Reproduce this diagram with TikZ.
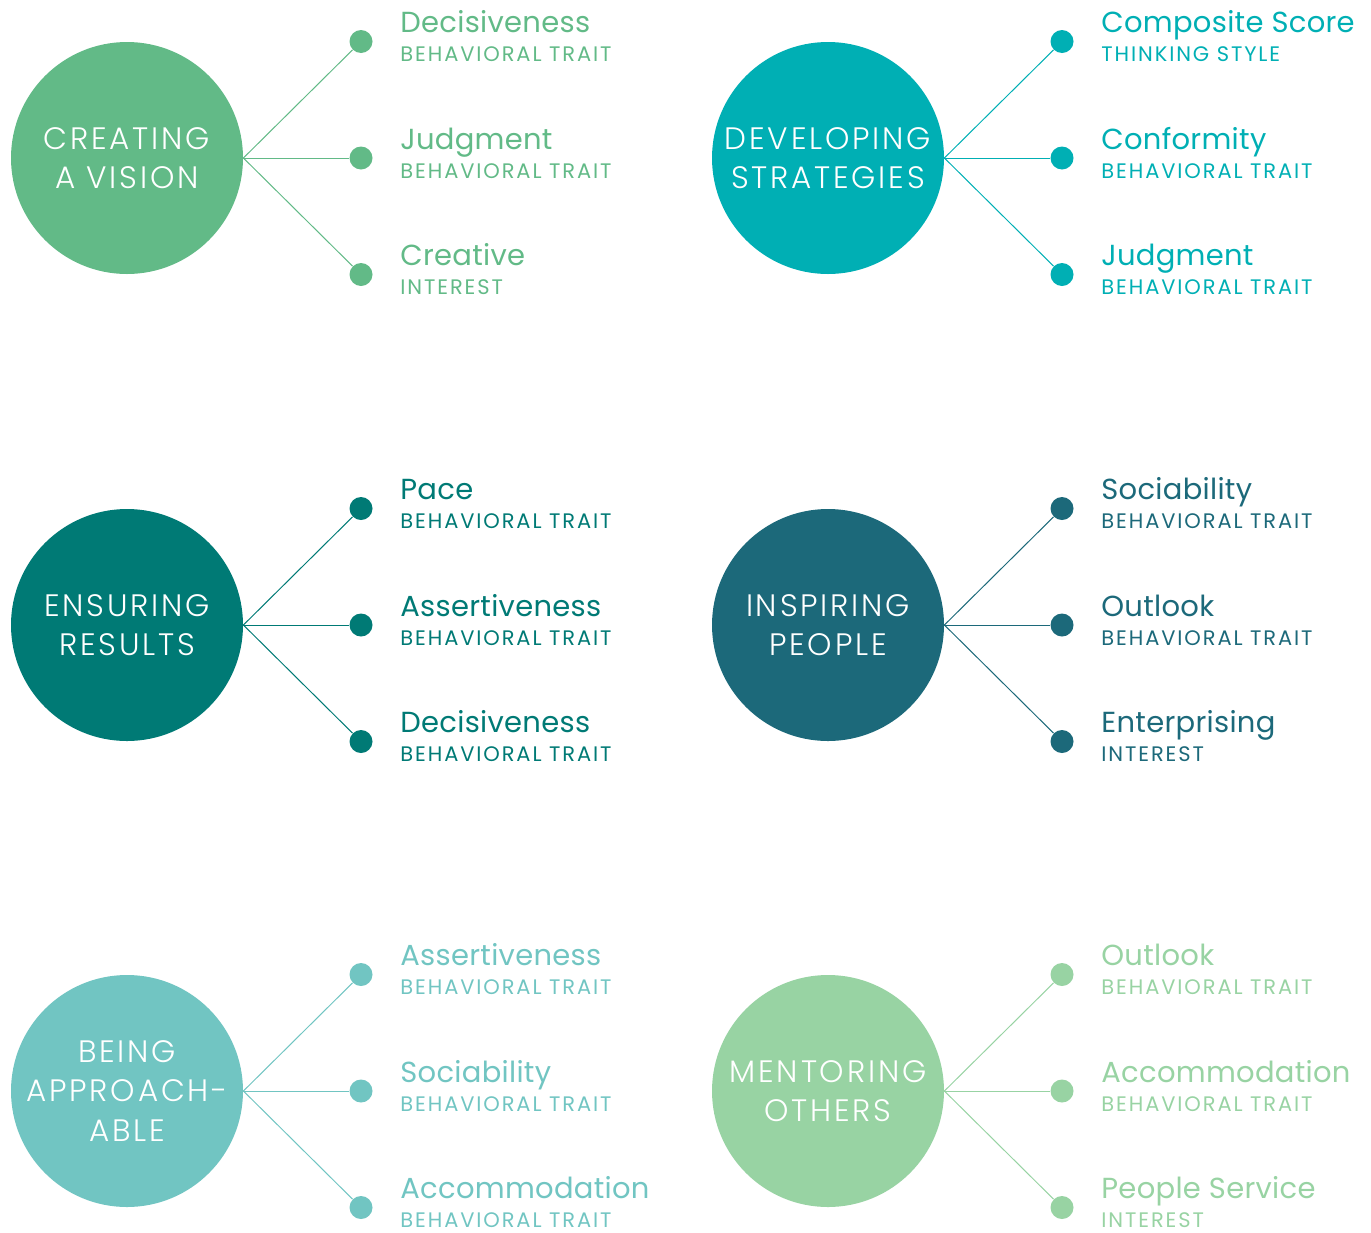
\documentclass[tikz,border=0pt]{standalone}
\usepackage{fontspec}
\setmainfont{Poppins}[LetterSpace=1]
\newfontfamily\hubfont{Poppins Light}[LetterSpace=9]
\newfontfamily\kindfont{Poppins}[LetterSpace=9]
\definecolor{visgreen}{HTML}{62BA87}
\definecolor{strteal}{HTML}{00AFB4}
\definecolor{resteal}{HTML}{007A75}
\definecolor{inspetrol}{HTML}{1C697A}
\definecolor{appteal}{HTML}{71C5C2}
\definecolor{menmint}{HTML}{98D3A3}
\begin{document}
\begin{tikzpicture}[x=0.5pt,y=-0.5pt,
 hub/.style={circle,minimum size=116pt,inner sep=0pt,text=white,align=center,font=\hubfont\fontsize{15.5}{19.75}\selectfont},
 dot/.style={circle,minimum size=11.5pt,inner sep=0pt},
 spoke/.style={line width=0.5pt},
 trait/.style={anchor=base west,inner sep=0pt,font=\fontsize{14.5}{16}\selectfont},
 kind/.style={anchor=base west,inner sep=0pt,font=\kindfont\fontsize{10.5}{12}\selectfont}]
\useasboundingbox (0,0) rectangle (1371,1232);
\pgfmathsetmacro{\xa}{127}   %left column, hub centre
 \pgfmathsetmacro{\xb}{828}  %right column
\pgfmathsetmacro{\ya}{158}   %rows
 \pgfmathsetmacro{\yb}{625}
 \pgfmathsetmacro{\yc}{1091}
\pgfmathsetmacro{\dx}{234}   %hub centre to dots
 \pgfmathsetmacro{\tx}{273}  %hub centre to texts
 \pgfmathsetmacro{\dy}{116.5}
%creating a vision
\node[hub,fill=visgreen] (vis) at (\xa,\ya) {CREATING\\A VISION};
\node[dot,fill=visgreen] (vis1) at (\xa+\dx,\ya-\dy) {};
\node[dot,fill=visgreen] (vis2) at (\xa+\dx,\ya) {};
\node[dot,fill=visgreen] (vis3) at (\xa+\dx,\ya+\dy) {};
\draw[spoke,visgreen] (vis.east)--(vis1);
\draw[spoke,visgreen] (vis.east)--(vis2);
\draw[spoke,visgreen] (vis.east)--(vis3);
\node[trait,text=visgreen] (vis1t) at (\xa+\tx,\ya-\dy-9) {Decisiveness};
\node[kind,text=visgreen] (vis1s) at (\xa+\tx,\ya-\dy+20) {BEHAVIORAL TRAIT};
\node[trait,text=visgreen] (vis2t) at (\xa+\tx,\ya-9) {Judgment};
\node[kind,text=visgreen] (vis2s) at (\xa+\tx,\ya+20) {BEHAVIORAL TRAIT};
\node[trait,text=visgreen] (vis3t) at (\xa+\tx,\ya+\dy-9) {Creative};
\node[kind,text=visgreen] (vis3s) at (\xa+\tx,\ya+\dy+20) {INTEREST};
%developing strategies
\node[hub,fill=strteal] (str) at (\xb,\ya) {DEVELOPING\\STRATEGIES};
\node[dot,fill=strteal] (str1) at (\xb+\dx,\ya-\dy) {};
\node[dot,fill=strteal] (str2) at (\xb+\dx,\ya) {};
\node[dot,fill=strteal] (str3) at (\xb+\dx,\ya+\dy) {};
\draw[spoke,strteal] (str.east)--(str1);
\draw[spoke,strteal] (str.east)--(str2);
\draw[spoke,strteal] (str.east)--(str3);
\node[trait,text=strteal] (str1t) at (\xb+\tx,\ya-\dy-9) {Composite Score};
\node[kind,text=strteal] (str1s) at (\xb+\tx,\ya-\dy+20) {THINKING STYLE};
\node[trait,text=strteal] (str2t) at (\xb+\tx,\ya-9) {Conformity};
\node[kind,text=strteal] (str2s) at (\xb+\tx,\ya+20) {BEHAVIORAL TRAIT};
\node[trait,text=strteal] (str3t) at (\xb+\tx,\ya+\dy-9) {Judgment};
\node[kind,text=strteal] (str3s) at (\xb+\tx,\ya+\dy+20) {BEHAVIORAL TRAIT};
%ensuring results
\node[hub,fill=resteal] (res) at (\xa,\yb) {ENSURING\\RESULTS};
\node[dot,fill=resteal] (res1) at (\xa+\dx,\yb-\dy) {};
\node[dot,fill=resteal] (res2) at (\xa+\dx,\yb) {};
\node[dot,fill=resteal] (res3) at (\xa+\dx,\yb+\dy) {};
\draw[spoke,resteal] (res.east)--(res1);
\draw[spoke,resteal] (res.east)--(res2);
\draw[spoke,resteal] (res.east)--(res3);
\node[trait,text=resteal] (res1t) at (\xa+\tx,\yb-\dy-9) {Pace};
\node[kind,text=resteal] (res1s) at (\xa+\tx,\yb-\dy+20) {BEHAVIORAL TRAIT};
\node[trait,text=resteal] (res2t) at (\xa+\tx,\yb-9) {Assertiveness};
\node[kind,text=resteal] (res2s) at (\xa+\tx,\yb+20) {BEHAVIORAL TRAIT};
\node[trait,text=resteal] (res3t) at (\xa+\tx,\yb+\dy-9) {Decisiveness};
\node[kind,text=resteal] (res3s) at (\xa+\tx,\yb+\dy+20) {BEHAVIORAL TRAIT};
%inspiring people
\node[hub,fill=inspetrol] (ins) at (\xb,\yb) {INSPIRING\\PEOPLE};
\node[dot,fill=inspetrol] (ins1) at (\xb+\dx,\yb-\dy) {};
\node[dot,fill=inspetrol] (ins2) at (\xb+\dx,\yb) {};
\node[dot,fill=inspetrol] (ins3) at (\xb+\dx,\yb+\dy) {};
\draw[spoke,inspetrol] (ins.east)--(ins1);
\draw[spoke,inspetrol] (ins.east)--(ins2);
\draw[spoke,inspetrol] (ins.east)--(ins3);
\node[trait,text=inspetrol] (ins1t) at (\xb+\tx,\yb-\dy-9) {Sociability};
\node[kind,text=inspetrol] (ins1s) at (\xb+\tx,\yb-\dy+20) {BEHAVIORAL TRAIT};
\node[trait,text=inspetrol] (ins2t) at (\xb+\tx,\yb-9) {Outlook};
\node[kind,text=inspetrol] (ins2s) at (\xb+\tx,\yb+20) {BEHAVIORAL TRAIT};
\node[trait,text=inspetrol] (ins3t) at (\xb+\tx,\yb+\dy-9) {Enterprising};
\node[kind,text=inspetrol] (ins3s) at (\xb+\tx,\yb+\dy+20) {INTEREST};
%being approachable
\node[hub,fill=appteal] (app) at (\xa,\yc) {BEING\\APPROACH-\\ABLE};
\node[dot,fill=appteal] (app1) at (\xa+\dx,\yc-\dy) {};
\node[dot,fill=appteal] (app2) at (\xa+\dx,\yc) {};
\node[dot,fill=appteal] (app3) at (\xa+\dx,\yc+\dy) {};
\draw[spoke,appteal] (app.east)--(app1);
\draw[spoke,appteal] (app.east)--(app2);
\draw[spoke,appteal] (app.east)--(app3);
\node[trait,text=appteal] (app1t) at (\xa+\tx,\yc-\dy-9) {Assertiveness};
\node[kind,text=appteal] (app1s) at (\xa+\tx,\yc-\dy+20) {BEHAVIORAL TRAIT};
\node[trait,text=appteal] (app2t) at (\xa+\tx,\yc-9) {Sociability};
\node[kind,text=appteal] (app2s) at (\xa+\tx,\yc+20) {BEHAVIORAL TRAIT};
\node[trait,text=appteal] (app3t) at (\xa+\tx,\yc+\dy-9) {Accommodation};
\node[kind,text=appteal] (app3s) at (\xa+\tx,\yc+\dy+20) {BEHAVIORAL TRAIT};
%mentoring others
\node[hub,fill=menmint] (men) at (\xb,\yc) {MENTORING\\OTHERS};
\node[dot,fill=menmint] (men1) at (\xb+\dx,\yc-\dy) {};
\node[dot,fill=menmint] (men2) at (\xb+\dx,\yc) {};
\node[dot,fill=menmint] (men3) at (\xb+\dx,\yc+\dy) {};
\draw[spoke,menmint] (men.east)--(men1);
\draw[spoke,menmint] (men.east)--(men2);
\draw[spoke,menmint] (men.east)--(men3);
\node[trait,text=menmint] (men1t) at (\xb+\tx,\yc-\dy-9) {Outlook};
\node[kind,text=menmint] (men1s) at (\xb+\tx,\yc-\dy+20) {BEHAVIORAL TRAIT};
\node[trait,text=menmint] (men2t) at (\xb+\tx,\yc-9) {Accommodation};
\node[kind,text=menmint] (men2s) at (\xb+\tx,\yc+20) {BEHAVIORAL TRAIT};
\node[trait,text=menmint] (men3t) at (\xb+\tx,\yc+\dy-9) {People Service};
\node[kind,text=menmint] (men3s) at (\xb+\tx,\yc+\dy+20) {INTEREST};
\end{tikzpicture}
\end{document}
